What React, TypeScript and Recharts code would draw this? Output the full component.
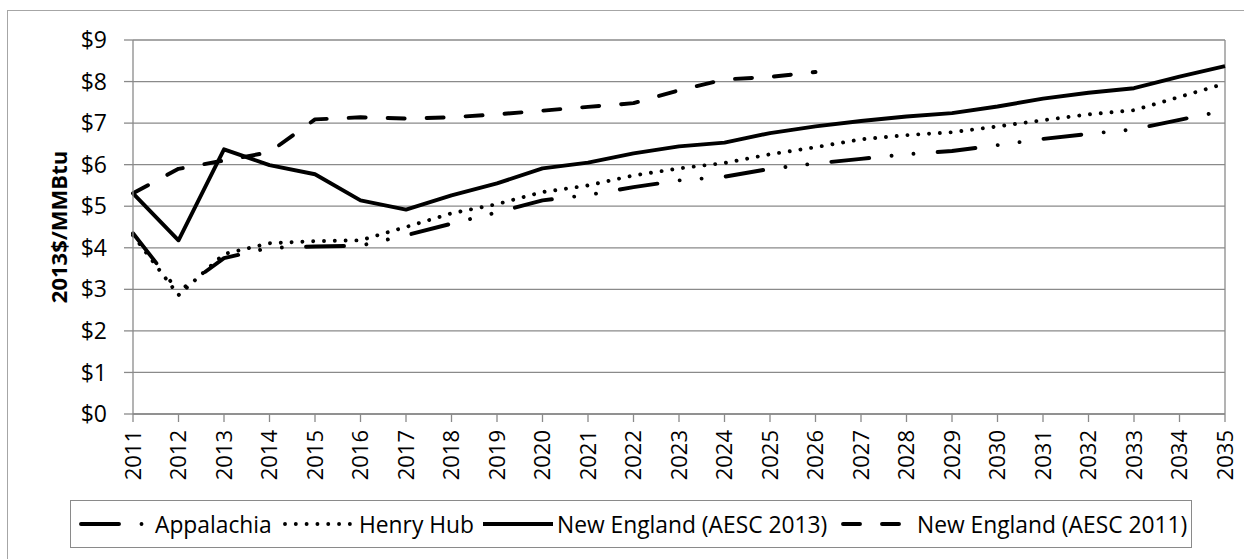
import { LineChart, Line, XAxis, YAxis, CartesianGrid, ReferenceLine } from "recharts";

const years = [
  "2011", "2012", "2013", "2014", "2015", "2016", "2017", "2018", "2019", "2020",
  "2021", "2022", "2023", "2024", "2025", "2026", "2027", "2028", "2029", "2030",
  "2031", "2032", "2033", "2034", "2035",
];

const appalachia = [
  4.35, 2.95, 3.75, 4.0, 4.03, 4.05, 4.3, 4.58, 4.85, 5.14, 5.27, 5.46, 5.62,
  5.71, 5.9, 6.03, 6.14, 6.25, 6.33, 6.47, 6.62, 6.74, 6.85, 7.08, 7.3,
];

const henryHub = [
  4.3, 2.86, 3.85, 4.11, 4.16, 4.18, 4.5, 4.83, 5.05, 5.34, 5.5, 5.74, 5.91,
  6.04, 6.25, 6.42, 6.61, 6.71, 6.78, 6.92, 7.07, 7.21, 7.31, 7.63, 7.95,
];

const newEngland2013 = [
  5.31, 4.18, 6.37, 5.99, 5.77, 5.14, 4.92, 5.26, 5.55, 5.91, 6.05, 6.27, 6.44,
  6.53, 6.76, 6.92, 7.05, 7.16, 7.24, 7.4, 7.59, 7.73, 7.84, 8.12, 8.37,
];

// AESC 2011 forecast stops at 2026
const newEngland2011 = [
  5.31, 5.9, 6.1, 6.3, 7.09, 7.14, 7.11, 7.14, 7.21, 7.3, 7.39, 7.48, 7.79,
  8.05, 8.11, 8.23,
];

const yTicks = [0, 1, 2, 3, 4, 5, 6, 7, 8, 9];

const FONT = "'Open Sans', sans-serif";
const GRID = "#8a8a8a";
const LW = 3.9;

const series = [
  { key: "appalachia", name: "Appalachia", dash: "38 22.5 0.01 22 0.01 24.2", cap: "round" },
  { key: "henryHub", name: "Henry Hub", dash: "0.01 10.8", cap: "round" },
  { key: "ne2013", name: "New England (AESC 2013)", dash: undefined, cap: "butt" },
  { key: "ne2011", name: "New England (AESC 2011)", dash: "17 22", cap: "round" },
];

// left edge of each legend entry inside the legend box
const legendLeft = [8, 212, 410, 770];

const data = years.map((year, i) => ({
  year,
  appalachia: appalachia[i],
  henryHub: henryHub[i],
  ne2013: newEngland2013[i],
  ne2011: i < newEngland2011.length ? newEngland2011[i] : null,
}));

function YearTick({ x, y, payload }: any) {
  return (
    <text
      x={x}
      y={y}
      transform={`rotate(-90 ${x} ${y})`}
      textAnchor="end"
      dy="0.36em"
      fontFamily={FONT}
      fontSize={22}
      fill="#000"
    >
      {payload.value}
    </text>
  );
}

function YTitle() {
  return (
    <text
      x={67}
      y={227}
      transform="rotate(-90 67 227)"
      textAnchor="middle"
      fontFamily={FONT}
      fontWeight={700}
      fontSize={22}
      fill="#000"
    >
      2013$/MMBtu
    </text>
  );
}

function LegendSample({ dash, cap }: { dash?: string; cap: string }) {
  return (
    <svg width={72} height={12} style={{ display: "block" }}>
      <line
        x1={2}
        y1={6}
        x2={72}
        y2={6}
        stroke="#000"
        strokeWidth={LW}
        strokeDasharray={dash}
        strokeLinecap={cap as any}
      />
    </svg>
  );
}

export default function App() {
  return (
    <div
      style={{
        position: "fixed",
        left: 0,
        top: 0,
        width: 1244,
        height: 559,
        overflow: "hidden",
        background: "#fff",
      }}
    >
      <div
        style={{
          position: "absolute",
          left: 7,
          top: 10,
          width: 1300,
          height: 600,
          border: "1px solid #a6a6a6",
        }}
      />
      <div style={{ position: "absolute", left: 0, top: 0 }}>
        <LineChart
          width={1244}
          height={559}
          data={data}
          margin={{ top: 40, right: 19, left: 0, bottom: 50 }}
        >
          <CartesianGrid vertical={false} stroke={GRID} strokeWidth={1.3} />
          <XAxis
            dataKey="year"
            interval={0}
            height={95}
            tick={<YearTick />}
            tickSize={8}
            tickMargin={8}
            axisLine={{ stroke: GRID, strokeWidth: 1.3 }}
            tickLine={{ stroke: GRID, strokeWidth: 1.3 }}
          />
          <YAxis
            width={133}
            domain={[0, 9]}
            ticks={yTicks}
            interval={0}
            tickFormatter={(v) => `$${v}`}
            tick={{ fill: "#000", fontSize: 23, fontFamily: FONT }}
            tickSize={9}
            tickMargin={17}
            axisLine={{ stroke: GRID, strokeWidth: 1.3 }}
            tickLine={{ stroke: GRID, strokeWidth: 1.3 }}
            label={{ content: () => <YTitle /> }}
          />
          <ReferenceLine x="2035" stroke={GRID} strokeWidth={1.3} />
          {series.map((s) => (
            <Line
              key={s.key}
              dataKey={s.key}
              name={s.name}
              type="linear"
              stroke="#000"
              strokeWidth={LW}
              strokeDasharray={s.dash}
              strokeLinecap={s.cap as any}
              strokeLinejoin="round"
              dot={false}
              activeDot={false}
              connectNulls={false}
              isAnimationActive={false}
            />
          ))}
        </LineChart>
      </div>
      <div
        style={{
          position: "absolute",
          left: 70,
          top: 500,
          width: 1120,
          height: 46,
          border: "1px solid " + GRID,
          fontFamily: FONT,
          fontSize: 22.8,
          color: "#000",
          whiteSpace: "nowrap",
        }}
      >
        {series.map((s, i) => (
          <div
            key={s.key}
            style={{
              position: "absolute",
              left: legendLeft[i],
              top: 0,
              height: 46,
              display: "flex",
              alignItems: "center",
            }}
          >
            <LegendSample dash={s.dash} cap={s.cap} />
            <span style={{ marginLeft: 4 }}>{s.name}</span>
          </div>
        ))}
      </div>
    </div>
  );
}
